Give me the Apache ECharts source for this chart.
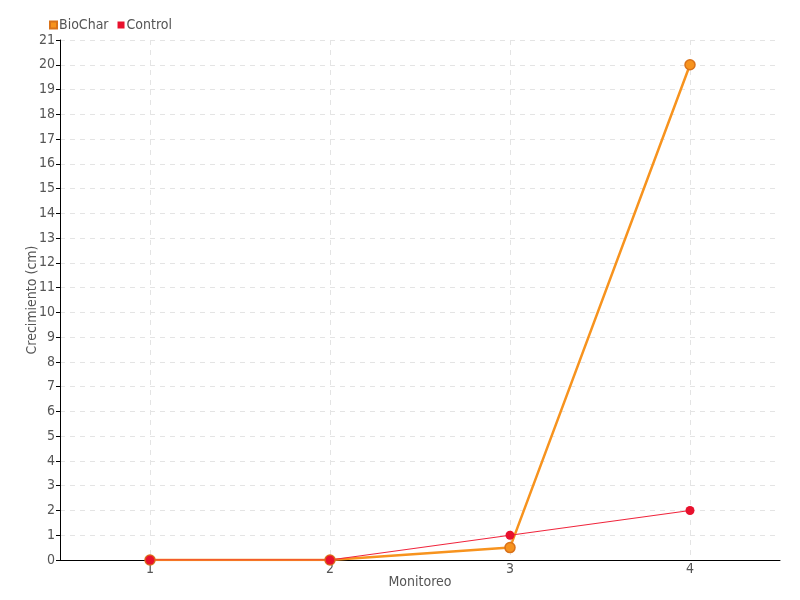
<!DOCTYPE html>
<html><head><meta charset="utf-8">
<script src="https://cdn.jsdelivr.net/npm/echarts@6/dist/echarts.min.js"></script>
<style>html,body{margin:0;padding:0;background:#fff}#c{width:800px;height:600px}</style>
</head><body><div id="c"></div>
<script>
const categories = ['1', '2', '3', '4'];
const bioChar = [0, 0, 0.5, 20];
const control = [0, 0, 1, 2];
const FONT = '"Liberation Sans Narrow", "DejaVu Sans Condensed", sans-serif';
const chart = echarts.init(document.getElementById('c'));
chart.setOption({
  animation: false,
  textStyle: { fontFamily: FONT },
  legend: {
    left: 44, top: 13, itemWidth: 7, itemHeight: 7, itemGap: 9,
    icon: 'rect',
    textStyle: { fontFamily: FONT, fontSize: 14, color: '#555', padding: [0, 0, 0, -3] },
    data: ['BioChar', 'Control']
  },
  grid: { left: 60, right: 20, top: 40, bottom: 40 },
  xAxis: {
    type: 'category', data: categories,
    name: 'Monitoreo', nameLocation: 'middle', nameGap: 15, nameMoveOverlap: false,
    nameTextStyle: { fontFamily: FONT, fontSize: 14, color: '#555' },
    axisLine: { lineStyle: { color: '#000', width: 1 } },
    axisTick: { alignWithLabel: true, length: 5, lineStyle: { color: '#333' } },
    axisLabel: { fontFamily: FONT, fontSize: 14, color: '#555', margin: 2 },
    splitLine: { show: true, alignWithLabel: true, lineStyle: { color: '#e4e4e4', type: [5, 5] } }
  },
  yAxis: {
    type: 'value', min: 0, max: 21, interval: 1,
    name: 'Crecimiento (cm)', nameLocation: 'middle', nameGap: 21, nameMoveOverlap: false,
    nameTextStyle: { fontFamily: FONT, fontSize: 14, color: '#555' },
    axisLine: { show: true, lineStyle: { color: '#000', width: 1 } },
    axisTick: { show: true, length: 4, lineStyle: { color: '#000' } },
    axisLabel: { fontFamily: FONT, fontSize: 14, color: '#555', margin: 5 },
    splitLine: { show: true, lineStyle: { color: '#e4e4e4', type: [5, 5] } }
  },
  series: [
    {
      name: 'BioChar', type: 'line', data: bioChar,
      symbol: 'circle', symbolSize: 10,
      lineStyle: { color: '#f7931e', width: 2.5 },
      itemStyle: { color: '#f7931e', borderColor: '#d9721a', borderWidth: 1.5 }
    },
    {
      name: 'Control', type: 'line', data: control,
      symbol: 'circle', symbolSize: 9,
      lineStyle: { color: '#f0263d', width: 1.2 },
      itemStyle: { color: '#e8112d', borderColor: '#e8112d', borderWidth: 0 }
    }
  ]
});
</script></body></html>
